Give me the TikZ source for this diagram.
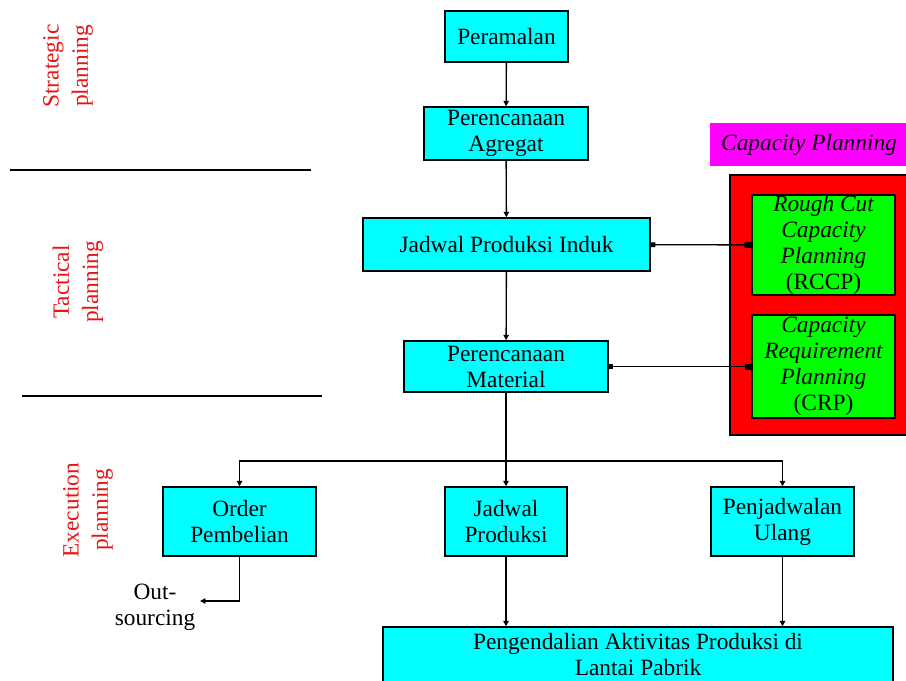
\documentclass[tikz,border=0pt]{standalone}
\usepackage{fontspec}
\setmainfont{Liberation Serif}
\usetikzlibrary{arrows.meta,positioning}
\definecolor{boxcyan}{RGB}{0,255,255}
\definecolor{capgreen}{RGB}{0,255,0}
\definecolor{capred}{RGB}{255,0,0}
\definecolor{capmagenta}{RGB}{255,0,255}
\definecolor{sidered}{RGB}{230,20,20}

\begin{document}
\begin{tikzpicture}[x=0.75pt, y=-0.75pt,
      box/.style={draw, fill=boxcyan, line width=1.1pt, align=center, inner sep=0pt, font=\fontsize{17.5}{19.5}\selectfont},
      capbox/.style={draw, fill=capgreen, line width=1.1pt, align=center, inner sep=0pt, font=\fontsize{17.5}{19.5}\selectfont\itshape},
      side/.style={rotate=90, align=center, text=sidered, font=\fontsize{17.5}{22}\selectfont},
      arr/.style={-{Triangle[length=4pt,width=4pt]}, line width=1pt},
      sq/.style={{Square[length=3.5pt,width=3.5pt]}-{Square[length=5pt,width=4.5pt]}, line width=1pt}]
    \useasboundingbox (0,0) rectangle (906,681);
    % planning levels
    \node[side] (strat) at (68,66) {Strategic\\planning};
    \node[side] (tact) at (78,282) {Tactical\\planning};
    \node[side] (exec) at (88,510) {Execution\\planning};
    \draw[line width=1.1pt] (10,170) -- (311,170);
    \draw[line width=1.1pt] (22,396) -- (322,396);
    % main chain
    \node[box, minimum width=92.25pt, minimum height=38.25pt] (peramalan) at (506.5,36.5) {Peramalan};
    \node[box, minimum width=123pt, minimum height=39.75pt] (agregat) at (506,133.5) {Perencanaan\\Agregat};
    \node[box, minimum width=215.25pt, minimum height=39.75pt] (jpi) at (506.5,244.5) {Jadwal Produksi Induk};
    \node[box, minimum width=153pt, minimum height=38.25pt] (material) at (506,366.5) {Perencanaan\\Material};
    \node[box, minimum width=114.75pt, minimum height=51.75pt] (order) at (239.5,521.5) {Order\\Pembelian};
    \node[box, minimum width=91.5pt, minimum height=51.75pt] (jadwal) at (506,521.5) {Jadwal\\Produksi};
    \node[box, minimum width=107.25pt, minimum height=51.75pt] (ulang) at (782.5,521.5) {Penjadwalan\\Ulang};
    \node[box, minimum width=382.5pt, minimum height=42pt] (pengendalian) at (638,655) {Pengendalian Aktivitas Produksi di\\Lantai Pabrik};
    \node[font=\fontsize{17.5}{19.5}\selectfont, align=center, inner sep=0pt] (outsrc) at (155,607) {Out-\\sourcing};
    \coordinate (outend) at (200,601);
    % capacity planning
    \node[fill=capmagenta, minimum width=148.5pt, minimum height=32.25pt, inner sep=0pt, font=\fontsize{17.5}{19.5}\selectfont\itshape] (caplabel) at (809,144.5) {Capacity Planning};
    \node[draw, fill=capred, line width=1.1pt, minimum width=135pt, minimum height=195pt] (capframe) at (820,305) {};
    \node[capbox, minimum width=107.25pt, minimum height=75pt] (rccp) at (823.5,245) {Rough Cut\\Capacity\\Planning\\\upshape(RCCP)};
    \node[capbox, minimum width=107.25pt, minimum height=77.25pt] (crp) at (823.5,366.5) {Capacity\\Requirement\\Planning\\\upshape(CRP)};
    % connectors
    \coordinate (split) at (506,461);
    \draw[arr] (peramalan) -- (agregat);
    \draw[arr] (agregat) -- (jpi);
    \draw[arr] (jpi) -- (material);
    \draw[line width=1pt] (material) -- (split);
    \draw[arr] (split) -| (order);
    \draw[arr] (split) -- (jadwal);
    \draw[arr] (split) -| (ulang);
    \draw[arr] (jadwal) -- (jadwal |- pengendalian.north);
    \draw[arr] (ulang) -- (ulang |- pengendalian.north);
    \draw[arr] (order) |- (outend);
    \draw[sq] (jpi) -- (rccp);
    \draw[sq] (material) -- (crp);
  \end{tikzpicture}
\end{document}
